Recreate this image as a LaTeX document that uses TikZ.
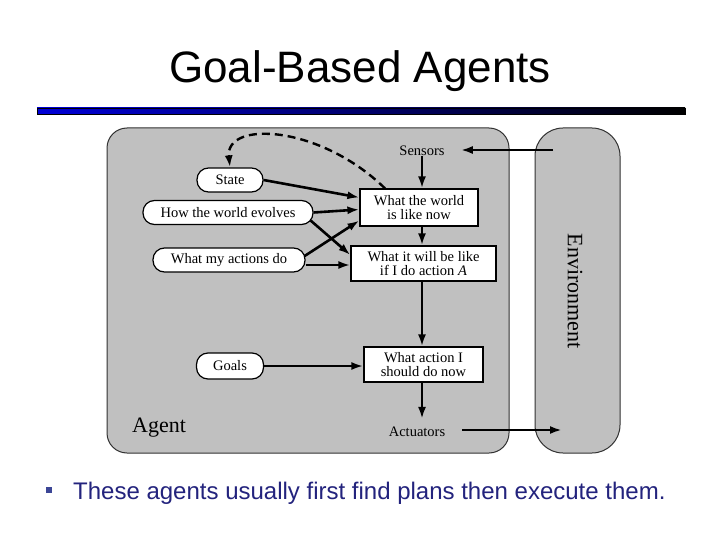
\documentclass[tikz,border=0pt]{standalone}
\usepackage{fontspec}
\usetikzlibrary{arrows.meta,calc}
\newfontfamily\titlefont{Liberation Sans}
\newfontfamily\diagfont{Liberation Serif}
\definecolor{agentgray}{RGB}{192,192,192}
\definecolor{edgegray}{RGB}{50,50,50}
\definecolor{navytext}{RGB}{35,35,125}
\definecolor{bulletblue}{RGB}{60,70,150}
\definecolor{lineblue}{RGB}{0,0,215}
\tikzset{
  dtext/.style={font={\diagfont\fontsize{14.5}{14.5}\selectfont}, inner sep=0pt},
  stadium/.style={dtext, draw=black, fill=white, line width=1.2pt, rounded corners=11.5pt, minimum height=24pt},
  boxn/.style={dtext, draw=black, fill=white, line width=1.2pt, align=center, minimum height=36pt},
  arr/.style={line width=2.6pt, -{Latex[length=12pt,width=8pt]}},
  panel/.style={draw=edgegray, fill=agentgray, line width=1pt, inner sep=0pt, outer sep=0pt}
}
\begin{document}
\begin{tikzpicture}[x=1pt,y=-1pt]
\useasboundingbox (0,0) rectangle (720,540);
\fill[white] (0,0) rectangle (720,540);
% title
\node[font={\titlefont\fontsize{44}{50}\selectfont}, anchor=base, inner sep=0pt] (title) at (360,83) {Goal-Based Agents};
% rule
\shade[left color=lineblue, right color=black] (37,108) rectangle (685,114);
\draw[black, line width=0.6pt] (37,108) rectangle (685,114);
% panels
\node[panel, rounded corners=20pt, minimum width=402pt, minimum height=325pt] (agent) at (308,290.5) {};
\node[panel, rounded corners=28pt, minimum width=85pt, minimum height=325pt] (env) at (577.5,290.5) {};
\node[font={\diagfont\fontsize{22}{24}\selectfont}, rotate=-90, inner sep=0pt] (envlabel) at (575,291) {Environment};
\node[font={\diagfont\fontsize{22}{24}\selectfont}, anchor=base west, inner sep=0pt] (agentlabel) at (132,432) {Agent};
% labels
\node[dtext] (sensors) at (422,151) {Sensors};
\node[dtext] (actuators) at (417,432) {Actuators};
% state nodes
\node[stadium, minimum width=66pt] (state) at (230,180) {State};
\node[stadium, minimum width=170pt] (how) at (228,212.5) {How the world evolves};
\node[stadium, minimum width=152pt] (act) at (229,260) {What my actions do};
\node[stadium, minimum width=67pt, minimum height=26pt] (goals) at (230,366) {Goals};
% boxes
\node[boxn, minimum width=118pt, minimum height=37pt] (now) at (419,207.5) {What the world\\is like now};
\node[boxn, minimum width=145pt, minimum height=35pt] (will) at (423.5,263.5) {What it will be like\\if I do action \textit{A}};
\node[boxn, minimum width=119pt, minimum height=35pt] (do) at (423.5,364.5) {What action I\\should do now};
% environment coordinates
\coordinate (envS) at (553,150);
\coordinate (envA) at (562,430);
% connectors
\draw[arr] (envS) -- ([xshift=16pt,yshift=1pt]sensors.east);
\draw[arr] (sensors.south) -- (sensors.south |- now.north);
\draw[arr] (sensors |- now.south) -- (sensors |- will.north);
\draw[arr] (sensors |- will.south) -- (sensors |- do.north);
\draw[arr] (sensors |- do.south) -- ([yshift=8pt]sensors |- actuators.north);
\draw[arr] ([xshift=17pt,yshift=2pt]actuators.east) -- (envA);
\draw[arr] (state.east) -- ([yshift=10pt]now.west);
\draw[arr] (how.east) -- ([yshift=-2pt]now.west);
\draw[arr] ([xshift=-3pt,yshift=-8pt]how.east) -- ([yshift=8.5pt]will.west);
\draw[arr] ([xshift=-1pt,yshift=4pt]act.east) -- ([yshift=-13pt]now.west);
\draw[arr] ([yshift=-5pt]act.east) -- ([yshift=-1.5pt]will.west);
\draw[arr] (goals.east) -- (goals.east -| do.west);
\draw[line width=2.4pt, dash pattern=on 8pt off 5pt, -{Latex[length=12pt,width=8pt]}] ([xshift=-34pt]now.north) .. controls (320,125) and (225,120) .. (state.north);
% bullet
\fill[bulletblue] (46,487) rectangle (52,493);
\node[font={\titlefont\fontsize{24}{28}\selectfont}, text=navytext, anchor=base west, inner sep=0pt] (bullet) at (73,499) {These agents usually first find plans then execute them.};
\end{tikzpicture}
\end{document}
